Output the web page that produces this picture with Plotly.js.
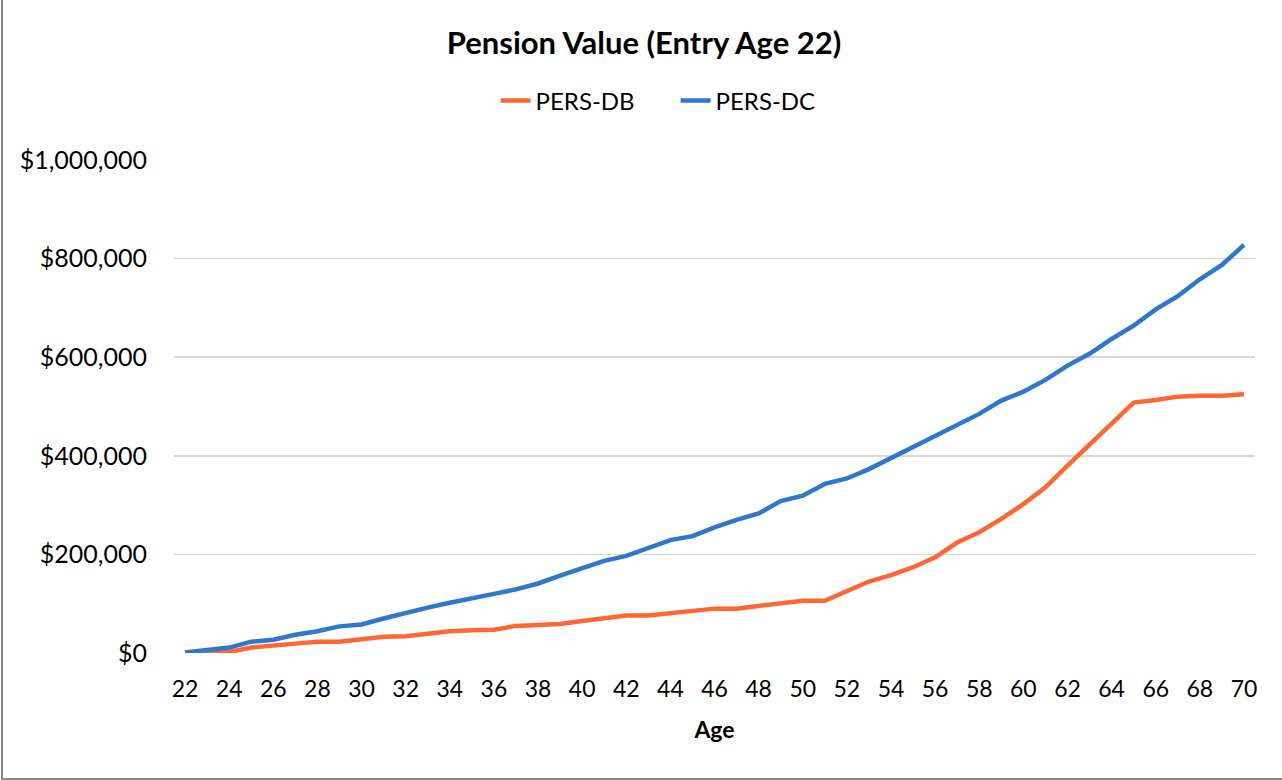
<!DOCTYPE html>
<html>
<head>
<meta charset="utf-8">
<script src="https://cdn.plot.ly/plotly-3.0.1.min.js"></script>
<style>
  html, body { margin: 0; padding: 0; background: #fff; overflow: hidden; }
  #wrap { position: relative; width: 1282px; height: 780px; overflow: hidden; }
  #chart { position: absolute; left: 0; top: 0; width: 1282px; height: 780px; }
  #frame { position: absolute; left: 1px; top: -5px; width: 1300px; height: 785px;
           border: 2px solid #8a8a8a; box-sizing: border-box; pointer-events: none; }
</style>
</head>
<body>
<div id="wrap">
  <div id="chart"></div>
  <div id="frame"></div>
</div>
<script>
const ages = [22,23,24,25,26,27,28,29,30,31,32,33,34,35,36,37,38,39,40,41,42,43,44,45,46,
              47,48,49,50,51,52,53,54,55,56,57,58,59,60,61,62,63,64,65,66,67,68,69,70];

const persDB = [0,0,2000,11000,14000,19000,23000,23000,28000,33000,34000,40000,44000,46000,47000,
                55000,58000,59000,65000,70000,76000,76000,81000,85000,90000,90000,96000,101000,
                106000,106000,125000,145000,158000,174000,194000,224000,245000,272000,302000,
                336000,380000,422000,464000,508000,513000,520000,522000,522000,525000];

const persDC = [1000,6000,11000,23000,27000,37000,44000,54000,58000,70000,82000,92000,102000,
                110000,120000,129000,141000,157000,172000,187000,197000,212000,229000,237000,
                255000,270000,283000,308000,319000,343000,354000,373000,395000,417000,441000,
                463000,485000,512000,530000,554000,583000,607000,637000,664000,697000,724000,
                758000,787000,828000];

const xTicks = [22,24,26,28,30,32,34,36,38,40,42,44,46,48,50,52,54,56,58,60,62,64,66,68,70];
const yTicks = [0,200000,400000,600000,800000,1000000];
const yTickText = ["$0","$200,000","$400,000","$600,000","$800,000","$1,000,000"];

const FONT = "Lato, 'Open Sans', 'DejaVu Sans', sans-serif";

const traces = [
  { x: ages, y: persDB, name: "PERS-DB", type: "scatter", mode: "lines",
    line: { color: "#FF6633", width: 4.5 } },
  { x: ages, y: persDC, name: "PERS-DC", type: "scatter", mode: "lines",
    line: { color: "#2E78CC", width: 4.5 } }
];

const layout = {
  width: 1282, height: 780,
  paper_bgcolor: "#ffffff", plot_bgcolor: "#ffffff",
  margin: { l: 174, r: 27, t: 160, b: 126.5, pad: 0 },
  font: { family: FONT, color: "#000000", size: 23 },
  title: {
    text: "<b>Pension Value (Entry Age 22)</b>",
    font: { family: FONT, size: 31, color: "#000000" },
    x: 644 / 1282, xref: "container", xanchor: "center",
    y: 1 - 43 / 780, yref: "container", yanchor: "middle"
  },
  showlegend: true,
  legend: {
    orientation: "h",
    x: 0.464, xanchor: "center",
    y: 1.12, yanchor: "middle",
    font: { family: FONT, size: 24, color: "#000000" },
    bgcolor: "rgba(0,0,0,0)",
    entrywidth: 135, entrywidthmode: "pixels"
  },
  xaxis: {
    range: [21.5, 70.5],
    tickmode: "array", tickvals: xTicks, ticktext: xTicks.map(String),
    showgrid: false, zeroline: false, showline: false,
    ticks: "", ticklabelstandoff: 20,
    tickfont: { family: FONT, size: 23, color: "#000000" },
    title: { text: "<b>Age</b>", font: { family: FONT, size: 23, color: "#000000" }, standoff: 20 },
    fixedrange: true
  },
  yaxis: {
    range: [0, 1000000],
    tickmode: "array", tickvals: yTicks, ticktext: yTickText,
    showgrid: true, gridcolor: "#D9D9D9", gridwidth: 1.6,
    zeroline: false, showline: false,
    ticks: "", ticklabelstandoff: 26,
    tickfont: { family: FONT, size: 25, color: "#000000" },
    fixedrange: true
  }
};

Plotly.newPlot("chart", traces, layout, { displayModeBar: false, staticPlot: true });
</script>
</body>
</html>
